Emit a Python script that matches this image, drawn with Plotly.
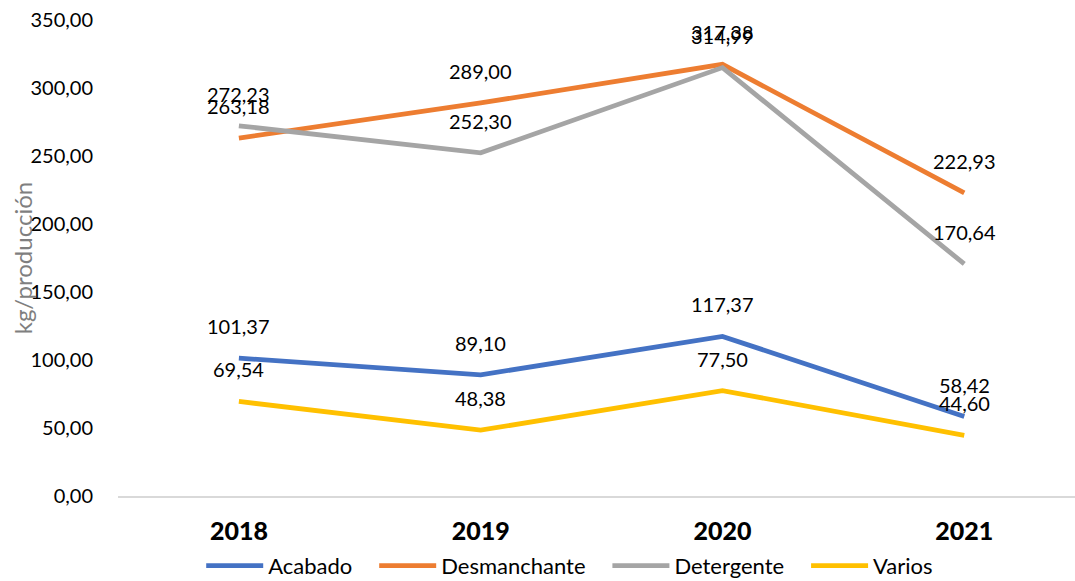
import plotly.graph_objects as go

# Data
years = ["2018", "2019", "2020", "2021"]
acabado = [101.37, 89.10, 117.37, 58.42]
desmanchante = [263.18, 289.00, 317.38, 222.93]
detergente = [272.23, 252.30, 314.99, 170.64]
varios = [69.54, 48.38, 77.50, 44.60]

series = [
    ("Acabado", acabado, "#4472C4"),
    ("Desmanchante", desmanchante, "#ED7D31"),
    ("Detergente", detergente, "#A5A5A5"),
    ("Varios", varios, "#FFC000"),
]

_FONT = "Lato"
_PAD = "\u00a0" * 3  # widen the gap between legend entries like Excel does

fig = go.Figure()
for k, (name, values, color) in enumerate(series):
    fig.add_trace(
        go.Scatter(
            x=years,
            y=values,
            name=name + (_PAD if k < len(series) - 1 else ""),
            mode="lines",
            line={"color": color, "width": 4.8},
        )
    )

# Excel-style data labels sitting above each point.
# Category axes read numeric-looking strings as indices, so place by index.
annotations = []
for name, values, color in series:
    for i, value in enumerate(values):
        annotations.append(
            dict(
                x=i,
                y=value,
                text=f"{value:.2f}".replace(".", ","),
                showarrow=False,
                yshift=32,
                font={"family": _FONT, "size": 20, "color": "#000000"},
            )
        )

# y-axis title drawn as an annotation so it can overlap the tick labels like the original
annotations.append(
    dict(
        x=-0.1,
        y=0.5,
        xref="paper",
        yref="paper",
        xanchor="center",
        yanchor="middle",
        text="kg/producción",
        textangle=-90,
        showarrow=False,
        font={"family": _FONT, "size": 24, "color": "#7F7F7F"},
    )
)

fig.update_layout(
    width=1075,
    height=581,
    margin={"l": 118, "r": 0, "t": 20, "b": 85},
    paper_bgcolor="white",
    plot_bgcolor="white",
    separators=",.",
    font={"family": _FONT, "color": "#000000"},
    annotations=annotations,
    legend={
        "orientation": "h",
        "x": 0.472,
        "xanchor": "center",
        "yref": "container",
        "y": 0.026,
        "yanchor": "middle",
        "itemwidth": 57,
        "font": {"family": _FONT, "size": 22, "color": "#000000"},
    },
    xaxis={
        "type": "category",
        "range": [-0.5, 3.458],
        "automargin": False,
        "showgrid": False,
        "showline": True,
        "linecolor": "#D9D9D9",
        "linewidth": 1.5,
        "ticks": "outside",
        "ticklen": 12,
        "tickcolor": "rgba(0,0,0,0)",
        "tickfont": {"family": _FONT, "size": 25, "color": "#000000", "weight": 900},
    },
    yaxis={
        "range": [0, 350],
        "dtick": 50,
        "tickformat": ".2f",
        "automargin": False,
        "showgrid": False,
        "zeroline": False,
        "showline": False,
        "ticks": "outside",
        "ticklen": 20,
        "tickcolor": "rgba(0,0,0,0)",
        "tickfont": {"family": _FONT, "size": 20, "color": "#000000"},
    },
)

# drop the default page margin so the figure fills the window exactly
fig.write_html(
    "out.html",
    config={"displayModeBar": False},
    post_script="document.body.style.margin='0';document.body.style.overflow='hidden';",
)
